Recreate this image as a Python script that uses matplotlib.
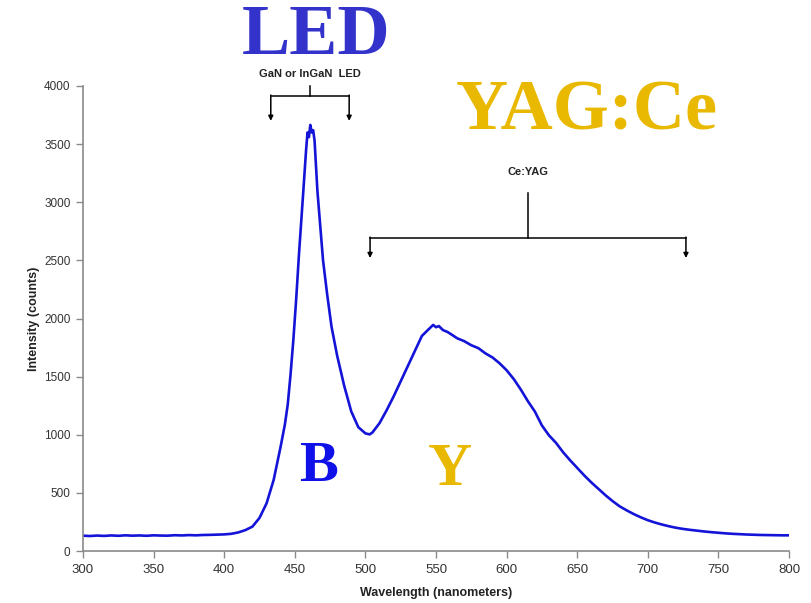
import matplotlib
matplotlib.use("Agg")
import matplotlib.pyplot as plt

# Emission spectrum of a white LED (blue InGaN chip + Ce:YAG phosphor)
wavelength = [300, 305, 310, 315, 320, 325, 330, 335, 340, 345, 350, 355, 360, 365,
              370, 375, 380, 385, 390, 395, 400, 405, 410, 415, 420, 425, 430, 435,
              440, 443, 445, 447, 449, 451, 453, 456, 458, 459, 460, 461, 462, 463, 464, 466, 468,
              470, 473, 476, 480, 485, 490, 495, 500, 503, 505, 510, 515, 520, 525, 530,
              535, 540, 545, 548, 550, 552, 555, 558, 560, 565, 570, 575, 580, 585,
              590, 595, 600, 605, 610, 615, 620, 625, 630, 635, 640, 645, 650, 655,
              660, 665, 670, 675, 680, 685, 690, 695, 700, 705, 710, 715, 720, 725,
              730, 735, 740, 745, 750, 755, 760, 765, 770, 775, 780, 785, 790, 795, 800]
intensity = [132, 129, 133, 130, 134, 131, 135, 132, 134, 131, 135, 133, 132, 136,
             134, 137, 135, 138, 139, 141, 143, 148, 160, 180, 210, 285, 410, 610,
             900, 1090, 1260, 1520, 1820, 2170, 2560, 3090, 3450, 3600, 3560, 3665, 3600, 3620, 3530, 3100, 2800,
             2500, 2200, 1930, 1680, 1420, 1200, 1065, 1012, 1003, 1020, 1100, 1210, 1330, 1460, 1590,
             1720, 1850, 1910, 1945, 1925, 1935, 1900, 1885, 1870, 1830, 1805, 1770, 1745, 1700,
             1665, 1615, 1555, 1480, 1390, 1290, 1200, 1080, 995, 930, 850, 780, 715, 650,
             590, 535, 480, 430, 385, 350, 318, 290, 265, 245, 228, 213, 200, 190,
             182, 175, 168, 162, 157, 152, 148, 145, 142, 140, 138, 137, 136, 135, 135]

x_ticks = [300, 350, 400, 450, 500, 550, 600, 650, 700, 750, 800]
y_ticks = [0, 500, 1000, 1500, 2000, 2500, 3000, 3500, 4000]

# Bracket annotations: (label, left x, right x, bar y, arrow tip y, stem top y, label y)
led_bracket = ("GaN or InGaN  LED", 433, 488.5, 3914, 3700, 4000, 4103)
yag_bracket = ("Ce:YAG", 503.3, 727, 2692, 2520, 3080, 3260)

plt.rcParams['font.family'] = ['Liberation Sans', 'DejaVu Sans']

fig = plt.figure(figsize=(8.12, 6.03), dpi=100)
ax = fig.add_axes([0.1022, 0.0862, 0.8695, 0.7712])

ax.plot(wavelength, intensity, color='#1414d8', lw=1.9, solid_joinstyle='round')

ax.set_xlim(300, 800)
ax.set_ylim(0, 4000)
ax.set_xticks(x_ticks)
ax.set_yticks(y_ticks)
for s in ('top', 'right'):
    ax.spines[s].set_visible(False)
for s in ('left', 'bottom'):
    ax.spines[s].set_color('#8a8a8a')
    ax.spines[s].set_linewidth(1.2)
ax.tick_params(axis='both', direction='out', length=5, width=1.0, color='#8a8a8a',
               labelsize=8.5, labelcolor='#333333', pad=4)
for lbl in ax.get_xticklabels():
    lbl.set_fontsize(9.5)

ax.set_xlabel('Wavelength (nanometers)', fontsize=9, fontweight='bold', color='#222222', labelpad=8)
ax.set_ylabel('Intensity (counts)', fontsize=9, fontweight='bold', color='#222222', labelpad=3)


def bracket(label, x0, x1, ybar, ytip, ytop, ylab, fs):
    xm = (x0 + x1) / 2
    ax.plot([x0, x1], [ybar, ybar], color='black', lw=1.1, clip_on=False)
    ax.plot([xm, xm], [ybar, ytop], color='black', lw=1.1, clip_on=False)
    for xx in (x0, x1):
        ax.annotate('', xy=(xx, ytip), xytext=(xx, ybar + 8),
                    arrowprops=dict(arrowstyle='-|>', color='black', lw=1.1,
                                    mutation_scale=7, shrinkA=0, shrinkB=0),
                    annotation_clip=False)
    ax.text(xm, ylab, label, ha='center', va='center', fontsize=fs,
            fontweight='bold', color='#222222', clip_on=False)


bracket(*led_bracket, fs=8)
bracket(*yag_bracket, fs=8)

serif = ['Liberation Serif', 'DejaVu Serif']
fig.text(316 / 812, 1 - 36 / 603, 'LED', ha='center', va='center', fontsize=52,
         fontweight='bold', color='#3333cc', family=serif)
fig.text(587 / 812, 1 - 112 / 603, 'YAG:Ce', ha='center', va='center', fontsize=52,
         fontweight='bold', color='#e8b900', family=serif)
fig.text(318 / 812, 1 - 467 / 603, 'B', ha='center', va='center', fontsize=42,
         fontweight='bold', color='#1010e8', family=serif)
fig.text(450 / 812, 1 - 470 / 603, 'Y', ha='center', va='center', fontsize=44,
         fontweight='bold', color='#e8b900', family=serif)

fig.savefig('out.png', dpi=100, facecolor='white')
